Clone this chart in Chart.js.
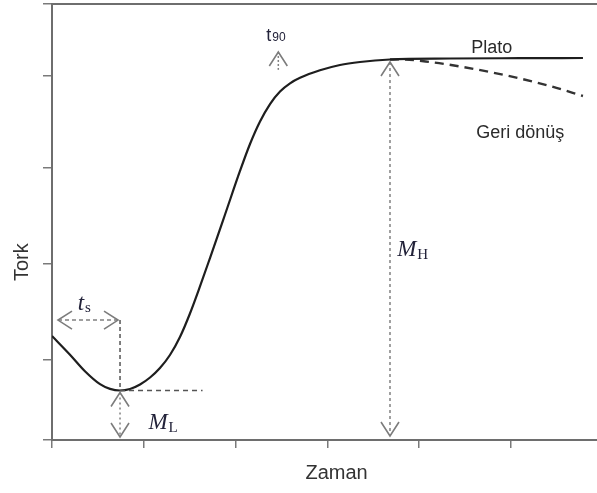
<!DOCTYPE html>
<html>
<head>
<meta charset="utf-8">
<script src="https://cdn.jsdelivr.net/npm/chart.js@4/dist/chart.umd.min.js"></script>
<style>
  body { margin: 0; background: #fff; }
</style>
</head>
<body>
<canvas id="torkGrafik" width="597" height="493"></canvas>
<script>
// Reometre eğrisi: tork - zaman
const zaman = [0, 0.196, 0.359, 0.523, 0.632, 0.741, 0.850, 0.959, 1.068, 1.176, 1.285, 1.394, 1.503, 1.612, 1.721, 1.885, 2.048, 2.157, 2.266, 2.375, 2.484, 2.593, 2.702, 2.919, 3.137, 3.355, 3.682, 4.336, 5.098, 5.784];
const tork = [23.85, 19.56, 15.77, 12.80, 11.72, 11.35, 11.70, 12.73, 14.33, 16.51, 19.50, 23.62, 29.01, 35.21, 41.74, 51.72, 61.70, 67.89, 73.05, 77.06, 79.93, 81.81, 83.07, 84.79, 86.01, 86.70, 87.27, 87.50, 87.57, 87.61];

// Geri dönüş kolu (kesikli)
const geriZaman = [3.682, 3.791, 4.118, 4.444, 4.771, 5.098, 5.425, 5.784];
const geriTork = [87.27, 87.30, 86.70, 85.67, 84.40, 82.91, 81.19, 78.90];

const xTicks = [0, 1, 2, 3, 4, 5];
const yTicks = [0, 18.5, 40.5, 62.5, 83.5, 100];
const xMax = 5.937;

// ok ve etiket yerleri (veri biriminde)
const mhZaman = 3.682;
const tsSeviye = 27.5;
const mlCizgiSonu = 1.64;

const iMin = tork.indexOf(Math.min(...tork));
const ML = tork[iMin], tML = zaman[iMin];
const MH = Math.max(...tork);

// t90: tork = ML + 0.9 (MH - ML) olduğu an
function t90Bul() {
  const hedef = ML + 0.9 * (MH - ML);
  for (let i = iMin; i < tork.length - 1; i++) {
    if (tork[i] <= hedef && tork[i + 1] >= hedef) {
      return zaman[i] + (zaman[i + 1] - zaman[i]) * (hedef - tork[i]) / (tork[i + 1] - tork[i]);
    }
  }
  return zaman[iMin];
}
const t90 = t90Bul();

function cizgi(ctx, x1, y1, x2, y2, dash, renk, w) {
  ctx.save();
  ctx.setLineDash(dash);
  ctx.strokeStyle = renk;
  ctx.lineWidth = w;
  ctx.beginPath();
  ctx.moveTo(x1, y1);
  ctx.lineTo(x2, y2);
  ctx.stroke();
  ctx.restore();
}

// açık uçlu ok başı; (dx, dy) okun yönü
function okBasi(ctx, tx, ty, dx, dy) {
  const L = 14, W = 9;
  ctx.save();
  ctx.strokeStyle = '#7c7c7c';
  ctx.lineWidth = 1.6;
  ctx.setLineDash([]);
  ctx.beginPath();
  ctx.moveTo(tx - dx * L - dy * W, ty - dy * L + dx * W);
  ctx.lineTo(tx, ty);
  ctx.lineTo(tx - dx * L + dy * W, ty - dy * L - dx * W);
  ctx.stroke();
  ctx.restore();
}

function simge(ctx, ana, alt, x, y, anaFont, altFont, altDy) {
  ctx.save();
  ctx.fillStyle = '#23233a';
  ctx.textAlign = 'left';
  ctx.textBaseline = 'alphabetic';
  ctx.font = anaFont;
  ctx.fillText(ana, x, y);
  const w = ctx.measureText(ana).width;
  ctx.font = altFont;
  ctx.fillText(alt, x + w + 1, y + altDy);
  ctx.restore();
}

const notlar = {
  id: 'notlar',
  afterDatasetsDraw(chart) {
    const { ctx } = chart;
    const X = v => chart.scales.x.getPixelForValue(v);
    const Y = v => chart.scales.y.getPixelForValue(v);
    const gri = '#808080';

    // t_s: başlangıçtan minimuma
    const tsY = Y(tsSeviye);
    cizgi(ctx, X(0) + 6, tsY, X(tML) - 2, tsY, [4, 3], gri, 1.5);
    okBasi(ctx, X(0) + 6, tsY, -1, 0);
    okBasi(ctx, X(tML) - 2, tsY, 1, 0);
    cizgi(ctx, X(tML), tsY, X(tML), Y(ML), [4, 3], '#555', 1.5);
    cizgi(ctx, X(tML), Y(ML), X(mlCizgiSonu), Y(ML), [5, 4], '#555', 1.5);

    // M_L
    cizgi(ctx, X(tML), Y(ML) + 2, X(tML), Y(0) - 3, [2, 3], gri, 1.5);
    okBasi(ctx, X(tML), Y(ML) + 2, 0, -1);
    okBasi(ctx, X(tML), Y(0) - 3, 0, 1);

    // M_H
    cizgi(ctx, X(mhZaman), Y(MH) + 4, X(mhZaman), Y(0) - 4, [3, 3], gri, 1.5);
    okBasi(ctx, X(mhZaman), Y(MH) + 4, 0, -1);
    okBasi(ctx, X(mhZaman), Y(0) - 4, 0, 1);

    // t90 işareti
    const t90x = X(t90) - 2;
    cizgi(ctx, t90x, Y(89), t90x, Y(84.9), [2, 2], gri, 1.5);
    okBasi(ctx, t90x, Y(89), 0, -1);

    // sembol etiketleri
    simge(ctx, 't', 's', X(0.28), Y(29.8), 'italic 23px "Liberation Serif"', '15px "Liberation Serif"', 2);
    simge(ctx, 'M', 'L', X(1.05), Y(2.5), 'italic 23px "Liberation Serif"', '15px "Liberation Serif"', 3);
    simge(ctx, 'M', 'H', X(3.76), Y(42.2), 'italic 23px "Liberation Serif"', '15px "Liberation Serif"', 3);
    simge(ctx, 't', '90', t90x - 12, Y(91.5), '18px "Liberation Sans"', '12px "Liberation Sans"', 0);

    ctx.save();
    ctx.fillStyle = '#2a2a2a';
    ctx.textAlign = 'center';
    ctx.textBaseline = 'middle';
    ctx.font = '18px "Liberation Sans"';
    ctx.fillText('Plato', X(4.79), Y(89.9));
    ctx.fillText('Geri dönüş', X(5.10), Y(70.4));

    // eksen başlıkları
    ctx.font = '20px "Liberation Sans"';
    ctx.fillStyle = '#333';
    ctx.fillText('Zaman', X(3.1), Y(0) + 33);
    ctx.translate(X(0) - 30, Y(40.8));
    ctx.rotate(-Math.PI / 2);
    ctx.fillText('Tork', 0, 0);
    ctx.restore();
  }
};

const eksenRengi = '#6e6e6e';
const izgara = { drawOnChartArea: false, color: '#7a7a7a', lineWidth: 1.5 };

new Chart(document.getElementById('torkGrafik').getContext('2d'), {
  type: 'line',
  data: {
    datasets: [{
      label: 'Tork',
      data: zaman.map((t, i) => ({ x: t, y: tork[i] })),
      borderColor: '#1e1e1e',
      borderWidth: 2.2,
      pointRadius: 0,
      cubicInterpolationMode: 'monotone',
      fill: false
    }, {
      label: 'Geri dönüş',
      data: geriZaman.map((t, i) => ({ x: t, y: geriTork[i] })),
      borderColor: '#333',
      borderWidth: 2.4,
      borderDash: [9, 6],
      pointRadius: 0,
      cubicInterpolationMode: 'monotone',
      fill: false
    }]
  },
  options: {
    responsive: false,
    animation: false,
    devicePixelRatio: 1,
    layout: { padding: 0 },
    plugins: { legend: { display: false }, tooltip: { enabled: false } },
    scales: {
      x: {
        type: 'linear', min: 0, max: xMax,
        afterBuildTicks: s => { s.ticks = xTicks.map(v => ({ value: v })); },
        afterFit: s => { s.height = 53; },
        ticks: { display: false },
        grid: { ...izgara, tickLength: 8 },
        border: { color: eksenRengi, width: 2 }
      },
      xUst: {
        type: 'linear', position: 'top', min: 0, max: xMax,
        afterFit: s => { s.height = 4; },
        ticks: { display: false },
        grid: { display: false },
        border: { color: eksenRengi, width: 2 }
      },
      y: {
        type: 'linear', min: 0, max: 100,
        afterBuildTicks: s => { s.ticks = yTicks.map(v => ({ value: v })); },
        afterFit: s => { s.width = 52; },
        ticks: { display: false },
        grid: { ...izgara, tickLength: 9 },
        border: { color: eksenRengi, width: 2 }
      }
    }
  },
  plugins: [notlar]
});
</script>
</body>
</html>
